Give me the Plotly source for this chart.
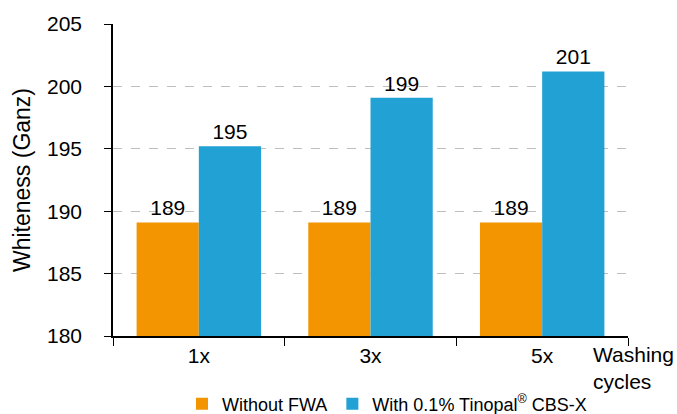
import plotly.graph_objects as go

categories = ["1x", "3x", "5x"]
without_fwa = [189.1, 189.1, 189.1]
with_tinopal = [195.2, 199.1, 201.2]
labels_without = ["189", "189", "189"]
labels_with = ["195", "199", "201"]
series_names = ["Without FWA", "With 0.1% Tinopal<sup>®</sup> CBS-X"]
y_ticks = [180, 185, 190, 195, 200, 205]

FONT = "Liberation Sans, Arial, sans-serif"
ORANGE = "#F29500"
BLUE = "#22A1D4"

fig = go.Figure()
fig.add_trace(go.Bar(
    x=categories, y=without_fwa, name=series_names[0],
    marker=dict(color=ORANGE, line=dict(width=0)),
    text=labels_without, textposition="outside", cliponaxis=False,
    textfont=dict(size=21, color="#000000", family=FONT),
))
fig.add_trace(go.Bar(
    x=categories, y=with_tinopal, name=series_names[1],
    marker=dict(color=BLUE, line=dict(width=0)),
    text=labels_with, textposition="outside", cliponaxis=False,
    textfont=dict(size=21, color="#000000", family=FONT),
))

fig.update_layout(
    width=677, height=414,
    margin=dict(l=113, r=49, t=24, b=78, autoexpand=False),
    paper_bgcolor="white", plot_bgcolor="white",
    font=dict(family=FONT, size=21, color="#000000"),
    barmode="group", bargap=0.275, bargroupgap=0,
    showlegend=True,
    legend=dict(
        orientation="h", xref="container", yref="container",
        x=182 / 677, xanchor="left", y=(414 - 404) / 414, yanchor="middle",
        font=dict(size=18, family=FONT, color="#000000"),
        itemwidth=30, traceorder="normal", bgcolor="rgba(0,0,0,0)",
    ),
    xaxis=dict(
        range=[-0.5, 2.5], tickson="boundaries", ticks="outside", ticklen=8,
        tickcolor="#000000", showline=True, linecolor="#000000", linewidth=1.5,
        showgrid=False, tickfont=dict(size=21, family=FONT), automargin=False,
    ),
    yaxis=dict(
        range=[180, 205], tickvals=y_ticks, ticks="outside", ticklen=7,
        tickcolor="#000000", showline=True, linecolor="#000000", linewidth=1.5,
        showgrid=True, gridcolor="#BEBEBE", griddash="dash", gridwidth=1.3,
        zeroline=False, tickfont=dict(size=21, family=FONT),
        ticklabelstandoff=18, automargin=False,
        title=dict(text="Whiteness (Ganz)", font=dict(size=23, family=FONT), standoff=10),
    ),
    annotations=[dict(
        text="Washing<br>cycles", xref="paper", yref="paper",
        x=1.0, y=0.0, xanchor="left", yanchor="top", align="left",
        xshift=-37, yshift=-5, showarrow=False,
        font=dict(size=21, family=FONT, color="#000000"),
    )],
)

fig.write_html(
    "out.html",
    config={"displayModeBar": False},
    post_script="document.body.style.margin='0';",
)
